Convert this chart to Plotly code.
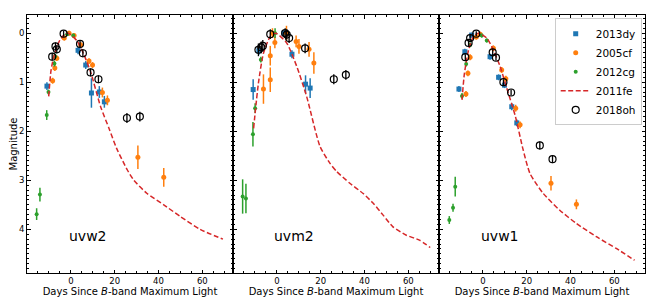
import plotly.graph_objects as go
from plotly.subplots import make_subplots

bands = ["uvw2", "uvm2", "uvw1"]
x_ticks = [0, 20, 40, 60]
y_ticks = [0, 1, 2, 3, 4]

# ---------------- uvw2 ----------------
dy_days_uvw2 = [-10.9, 3.3, 6.8, 9.4, 13.0, 15.3]
dy_mag_uvw2 = [1.08, 0.35, 0.65, 1.22, 1.20, 1.40]
dy_err_uvw2 = [0.08, 0.08, 0.08, 0.30, 0.12, 0.12]

cf_days_uvw2 = [-8.3, -7.3, -6.4, -3.0, -0.8, 1.5, 4.5, 8.3, 9.9, 14.4, 16.7, 30.6, 42.4]
cf_mag_uvw2 = [0.97, 0.71, 0.51, 0.10, 0.0, 0.05, 0.24, 0.57, 0.65, 1.21, 1.37, 2.53, 2.94]
cf_err_uvw2 = [0.06, 0.06, 0.06, 0.05, 0.05, 0.05, 0.06, 0.06, 0.06, 0.10, 0.10, 0.24, 0.19]

cg_days_uvw2 = [-15.6, -14.1, -11.0, -10.2, -7.5, -7.2, -1.7, 1.1]
cg_mag_uvw2 = [3.69, 3.29, 1.67, 1.20, 0.62, 0.47, 0.02, 0.05]
cg_err_uvw2 = [0.12, 0.14, 0.10, 0.05, 0.06, 0.05, 0.04, 0.04]

fe_days_uvw2 = [-10.1, -9.1, -8.0, -6.8, -5.0, -3.8, -2.3, 0.0, 3.0, 6.0, 9.1, 13.6, 17.4,
                20.9, 25.8, 28.8, 34.8, 42.4, 50.0, 59.0, 69.4]
fe_mag_uvw2 = [1.29, 0.78, 0.52, 0.34, 0.14, 0.07, 0.0, 0.03, 0.17, 0.44, 0.80, 1.50, 1.94,
               2.35, 2.79, 3.00, 3.27, 3.50, 3.74, 4.00, 4.20]

oh_days_uvw2 = [-8.5, -7.0, -6.4, -3.3, 4.2, 5.5, 9.0, 12.6, 25.6, 31.5]
oh_mag_uvw2 = [0.48, 0.27, 0.33, 0.01, 0.22, 0.41, 0.80, 0.94, 1.73, 1.70]
oh_err_uvw2 = [0.08, 0.08, 0.08, 0.06, 0.08, 0.08, 0.08, 0.08, 0.10, 0.10]

# ---------------- uvm2 ----------------
dy_days_uvm2 = [-10.8, -8.2, 3.2, 6.9, 13.1, 15.2]
dy_mag_uvm2 = [1.15, 0.36, 0.0, 0.43, 1.04, 1.12]
dy_err_uvm2 = [0.21, 0.08, 0.06, 0.08, 0.18, 0.20]

cf_days_uvm2 = [-6.1, -3.0, -3.0, -2.0, -0.9, 4.4, 8.8, 10.1, 14.7, 16.9]
cf_mag_uvm2 = [1.14, 0.95, 0.46, 0.0, 0.19, 0.0, 0.17, 0.27, 0.33, 0.61]
cf_err_uvm2 = [0.30, 0.25, 0.20, 0.10, 0.12, 0.15, 0.12, 0.15, 0.15, 0.22]

cg_days_uvm2 = [-15.6, -14.1, -10.9, -9.9, -7.3, -0.8]
cg_mag_uvm2 = [3.33, 3.37, 2.06, 1.53, 0.54, 0.0]
cg_err_uvm2 = [0.35, 0.30, 0.25, 0.10, 0.06, 0.10]

fe_days_uvm2 = [-10.6, -8.4, -6.1, -3.0, -0.5, 4.5, 9.1, 13.6, 19.7, 24.2, 27.3, 33.3, 39.4,
                44.0, 48.5, 53.0, 59.1, 65.1, 70.0]
fe_mag_uvm2 = [1.94, 1.02, 0.41, 0.07, 0.0, 0.20, 0.68, 1.29, 2.31, 2.65, 2.82, 3.06, 3.27,
               3.47, 3.71, 3.95, 4.12, 4.22, 4.37]

oh_days_uvm2 = [-8.4, -7.1, -6.4, -3.0, 3.8, 4.5, 5.6, 12.9, 26.0, 31.5]
oh_mag_uvm2 = [0.34, 0.29, 0.26, 0.02, 0.0, 0.03, 0.10, 0.31, 0.94, 0.85]
oh_err_uvm2 = [0.13, 0.12, 0.12, 0.10, 0.10, 0.10, 0.10, 0.10, 0.10, 0.10]

# ---------------- uvw1 ----------------
dy_days_uvw1 = [-10.9, -8.2, -5.1, 3.3, 7.2, 9.9, 13.2, 15.5]
dy_mag_uvw1 = [1.14, 0.38, 0.04, 0.48, 0.90, 1.06, 1.50, 1.83]
dy_err_uvw1 = [0.06, 0.06, 0.05, 0.06, 0.06, 0.06, 0.07, 0.07]

cf_days_uvw1 = [-7.7, -6.8, -5.8, -3.0, -1.2, 4.8, 8.6, 10.5, 15.0, 17.0, 31.1, 42.7]
cf_mag_uvw1 = [1.24, 0.82, 0.49, 0.08, 0.02, 0.31, 0.75, 0.93, 1.53, 1.87, 3.06, 3.49]
cf_err_uvw1 = [0.06, 0.06, 0.06, 0.05, 0.05, 0.06, 0.06, 0.06, 0.07, 0.07, 0.15, 0.10]

cg_days_uvw1 = [-15.3, -13.6, -12.6, -9.5, -7.6, -5.8, -0.5, 1.8]
cg_mag_uvw1 = [3.81, 3.56, 3.13, 1.28, 0.63, 0.24, 0.05, 0.15]
cg_err_uvw1 = [0.08, 0.08, 0.20, 0.06, 0.05, 0.05, 0.04, 0.04]

fe_days_uvw1 = [-9.5, -8.4, -6.5, -4.2, -2.0, 1.8, 4.8, 7.9, 10.9, 14.7, 18.3, 21.5, 27.6,
                35.1, 42.7, 51.8, 60.9, 69.2]
fe_mag_uvw1 = [1.36, 0.82, 0.34, 0.06, 0.0, 0.10, 0.34, 0.68, 1.12, 1.67, 2.36, 2.86, 3.27,
               3.61, 3.88, 4.15, 4.39, 4.63]

oh_days_uvw1 = [-8.0, -6.5, -5.8, -3.0, 4.5, 6.0, 9.4, 12.9, 26.0, 31.8]
oh_mag_uvw1 = [0.49, 0.20, 0.10, 0.01, 0.39, 0.50, 1.00, 1.21, 2.29, 2.57]
oh_err_uvw1 = [0.06, 0.06, 0.06, 0.05, 0.06, 0.06, 0.06, 0.06, 0.08, 0.08]

BLUE, ORANGE, GREEN, RED = "#1f77b4", "#ff7f0e", "#2ca02c", "#d62728"
FONT = "DejaVu Sans"

panels = [
    (dy_days_uvw2, dy_mag_uvw2, dy_err_uvw2, cf_days_uvw2, cf_mag_uvw2, cf_err_uvw2,
     cg_days_uvw2, cg_mag_uvw2, cg_err_uvw2, fe_days_uvw2, fe_mag_uvw2,
     oh_days_uvw2, oh_mag_uvw2, oh_err_uvw2),
    (dy_days_uvm2, dy_mag_uvm2, dy_err_uvm2, cf_days_uvm2, cf_mag_uvm2, cf_err_uvm2,
     cg_days_uvm2, cg_mag_uvm2, cg_err_uvm2, fe_days_uvm2, fe_mag_uvm2,
     oh_days_uvm2, oh_mag_uvm2, oh_err_uvm2),
    (dy_days_uvw1, dy_mag_uvw1, dy_err_uvw1, cf_days_uvw1, cf_mag_uvw1, cf_err_uvw1,
     cg_days_uvw1, cg_mag_uvw1, cg_err_uvw1, fe_days_uvw1, fe_mag_uvw1,
     oh_days_uvw1, oh_mag_uvw1, oh_err_uvw1),
]

fig = make_subplots(rows=1, cols=3, shared_yaxes=True, horizontal_spacing=0)


def err(arr, c, th=1.5):
    return dict(type="data", array=arr, thickness=th, width=0, color=c)


for i, p in enumerate(panels):
    col = i + 1
    show = (i == 0)
    (dyd, dym, dye, cfd, cfm, cfe, cgd, cgm, cge, fed, fem, ohd, ohm, ohe) = p

    fig.add_trace(go.Scatter(x=dyd, y=dym, mode="markers", name="2013dy", legendgroup="dy",
                             showlegend=show, error_y=err(dye, BLUE),
                             marker=dict(symbol="square", size=5, color=BLUE)), row=1, col=col)
    fig.add_trace(go.Scatter(x=cfd, y=cfm, mode="markers", name="2005cf", legendgroup="cf",
                             showlegend=show, error_y=err(cfe, ORANGE),
                             marker=dict(symbol="circle", size=5, color=ORANGE)), row=1, col=col)
    fig.add_trace(go.Scatter(x=cgd, y=cgm, mode="markers", name="2012cg", legendgroup="cg",
                             showlegend=show, error_y=err(cge, GREEN),
                             marker=dict(symbol="circle", size=4, color=GREEN)), row=1, col=col)
    fig.add_trace(go.Scatter(x=fed, y=fem, mode="lines", name="2011fe", legendgroup="fe",
                             showlegend=show,
                             line=dict(color=RED, width=1.5, dash="5px,2.5px", shape="spline",
                                       smoothing=0.6)), row=1, col=col)
    fig.add_trace(go.Scatter(x=ohd, y=ohm, mode="markers", name="2018oh", legendgroup="oh",
                             showlegend=show, error_y=err(ohe, "black", 1.3),
                             marker=dict(symbol="circle-open", size=7, color="black",
                                         line=dict(width=1.2, color="black"))), row=1, col=col)

    fig.add_annotation(x=8, y=4.13, xref=f"x{'' if col == 1 else col}",
                       yref=f"y{'' if col == 1 else col}", text=bands[i], showarrow=False,
                       font=dict(family=FONT, size=14, color="black"))

axis_common = dict(showline=True, linecolor="black", linewidth=1, mirror="allticks",
                   ticks="inside", ticklen=3.5, tickwidth=0.8, tickcolor="black",
                   showgrid=False, zeroline=False, automargin=False,
                   tickfont=dict(family=FONT, size=8.5, color="black"))

for i in range(3):
    col = i + 1
    fig.update_xaxes(row=1, col=col, range=[-20, 74], tickvals=x_ticks,
                     minor=dict(dtick=5, tick0=0, ticks="inside", ticklen=2, tickcolor="black",
                                tickwidth=0.6, showgrid=False),
                     title=dict(text="Days Since <i>B</i>-band Maximum Light", standoff=2,
                                font=dict(family=FONT, size=10, color="black")),
                     **axis_common)
    fig.update_yaxes(row=1, col=col, range=[4.89, -0.37], tickvals=y_ticks,
                     showticklabels=(i == 0),
                     minor=dict(dtick=0.1, tick0=0, ticks="inside", ticklen=2, tickcolor="black",
                                tickwidth=0.6, showgrid=False),
                     **axis_common)

fig.update_yaxes(row=1, col=1, title=dict(text="Magnitude", standoff=6,
                                          font=dict(family=FONT, size=10, color="black")))

# the page body adds an 8px margin, so the figure is shifted; compensate here
fig.update_layout(
    width=652, height=292,
    margin=dict(l=19, r=15, t=7, b=27),
    plot_bgcolor="white", paper_bgcolor="white",
    font=dict(family=FONT, color="black"),
    legend=dict(x=(641.7 - 27) / 618, xanchor="right", y=(273 - 18.3) / 258, yanchor="top",
                bgcolor="rgba(255,255,255,0.85)", bordercolor="#cccccc", borderwidth=1,
                font=dict(family=FONT, size=10.5, color="black"), tracegroupgap=0,
                itemwidth=30),
)

fig.write_html("out.html")
